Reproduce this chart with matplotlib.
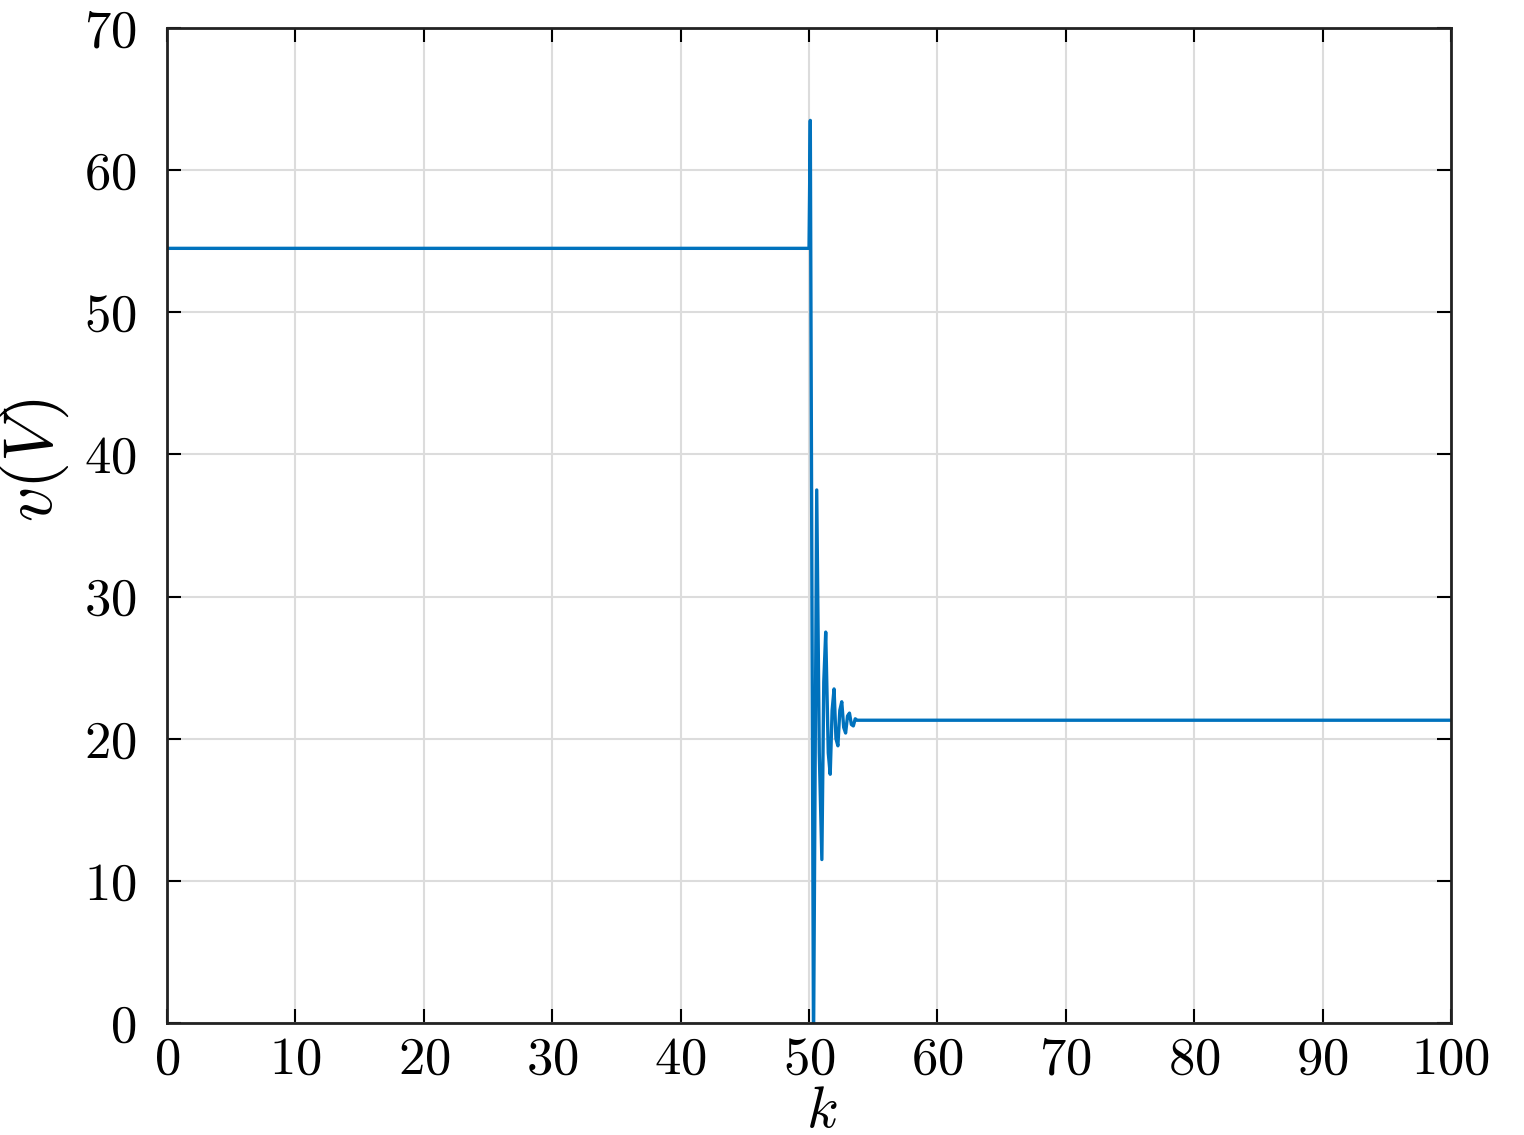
import matplotlib
matplotlib.use("Agg")
import matplotlib.pyplot as plt
import numpy as np

# samples
k = [0, 50.0, 50.1, 50.35, 50.6, 50.8, 51.0, 51.15, 51.3, 51.5, 51.65, 51.8,
     51.95, 52.1, 52.25, 52.4, 52.55, 52.7, 52.85, 53.0, 53.15, 53.3, 53.45,
     53.6, 53.75, 100]
v = [54.5, 54.5, 63.5, -2.0, 37.5, 19.0, 11.5, 24.0, 27.5, 19.0, 17.5, 22.0,
     23.5, 20.0, 19.5, 22.0, 22.6, 20.8, 20.4, 21.6, 21.8, 21.0, 20.9,
     21.4, 21.3, 21.3]

plt.rcParams['font.family'] = 'serif'
plt.rcParams['font.serif'] = ['cmr10']
plt.rcParams['mathtext.fontset'] = 'cm'
plt.rcParams['axes.formatter.use_mathtext'] = True

fig = plt.figure(figsize=(15.24, 11.35), dpi=100)
ax = fig.add_axes([0.1096, 0.0987, 0.8425, 0.8766])

ax.plot(k, v, color='#0072BD', linewidth=2.4)

ax.set_xlim(0, 100)
ax.set_ylim(0, 70)
ax.set_xticks(np.arange(0, 101, 10))
ax.set_yticks(np.arange(0, 71, 10))
ax.grid(True, color='#dcdcdc', linewidth=1.5)
ax.set_axisbelow(True)
ax.tick_params(direction='in', top=True, right=True, length=10, width=1.5,
               labelsize=38)
ax.tick_params(axis='y', pad=22)
ax.tick_params(axis='x', pad=10)
for s in ax.spines.values():
    s.set_linewidth(2)
    s.set_color('#222222')

ax.set_xlabel(r'$k$', fontsize=42)
ax.xaxis.set_label_coords(0.51, -0.064)
ax.set_ylabel(r'$v(V)$', fontsize=50)
ax.yaxis.set_label_coords(-0.075, 0.565)

fig.savefig('out.png', dpi=100)
